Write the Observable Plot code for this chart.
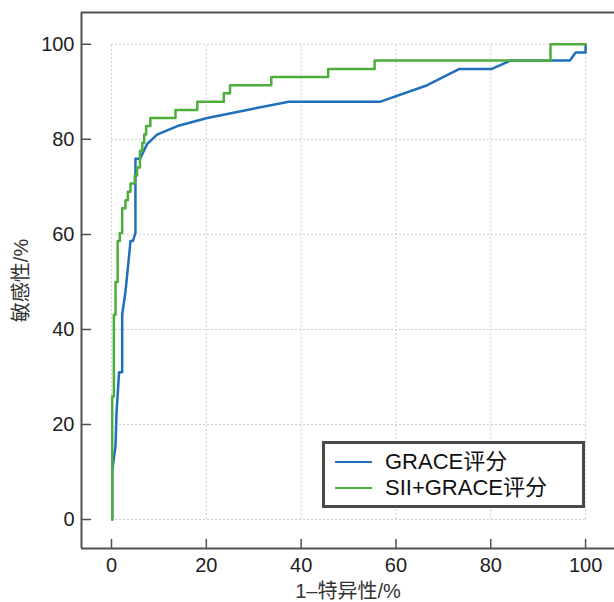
<!DOCTYPE html>
<html><head><meta charset="utf-8">
<script src="https://cdn.jsdelivr.net/npm/d3@7"></script>
<script src="https://cdn.jsdelivr.net/npm/@observablehq/plot@0.6"></script>
<style>
body{margin:0;background:#fff;}
#wrap{position:relative;width:614px;height:602px;overflow:hidden;}
#legend{position:absolute;left:322px;top:441px;width:257px;height:61px;border:3px solid #464b46;background:#fff;font-family:"Liberation Sans","Noto Sans CJK SC",sans-serif;font-size:22px;color:#111;}
.row{position:absolute;left:0;height:26px;line-height:26px;display:flex;align-items:center;white-space:nowrap;}
.sw{display:inline-block;width:37px;height:2.5px;margin-left:10px;margin-right:13px;}
</style></head><body><div id="wrap"></div>
<script>
const xTicks = [0, 20, 40, 60, 80, 100];
const yTicks = [0, 20, 40, 60, 80, 100];
const xLabel = "1–特异性/%";
const yLabel = "敏感性/%";
const seriesNames = ["GRACE评分", "SII+GRACE评分"];
const seriesColors = ["#1f6fba", "#4dae3b"];

// GRACE评分 ROC vertices (1-specificity %, sensitivity %)
const graceFpr = [0.15,0.15,0.85,1.05,1.6,2.25,2.25,2.95,3.65,4.0,4.5,5.05,5.05,6.0,7.5,9.6,13.9,20.2,28.6,37.4,56.6,66.6,73.3,80.1,84.2,96.7,97.9,100,100];
const graceTpr = [0,10.3,15.5,22.4,31.0,31.0,43.1,48.0,54.9,58.6,58.6,60.3,75.9,75.9,79.0,81.0,82.8,84.5,86.2,87.9,87.9,91.4,94.8,94.8,96.6,96.6,98.3,98.3,100];

// SII+GRACE评分 ROC vertices
const siiFpr = [0.15,0.15,0.5,0.5,0.85,0.85,1.3,1.3,1.75,1.75,2.25,2.25,2.95,2.95,3.45,3.45,4.0,4.0,4.9,4.9,5.4,5.4,6.0,6.0,6.5,6.5,6.9,6.9,7.3,7.3,8.2,8.2,13.5,13.5,18.1,18.1,23.7,23.7,25.0,25.0,33.7,33.7,45.7,45.7,55.5,55.5,92.6,92.6,100];
const siiTpr = [0,25.9,25.9,43.1,43.1,50.0,50.0,58.6,58.6,60.3,60.3,65.5,65.5,67.2,67.2,69.0,69.0,70.7,70.7,72.4,72.4,74.1,74.1,77.6,77.6,79.3,79.3,81.0,81.0,82.8,82.8,84.5,84.5,86.2,86.2,87.9,87.9,89.7,89.7,91.4,91.4,93.1,93.1,94.8,94.8,96.6,96.6,100,100];

const xDomain = [-6.33, 106.1];
const yDomain = [-6.1, 106.7];

const grace = graceFpr.map((x, i) => ({x, y: graceTpr[i]}));
const sii = siiFpr.map((x, i) => ({x, y: siiTpr[i]}));

const frameColor = "#505250";
const tickShapeUp = {draw(ctx, l) { ctx.moveTo(0, 0); ctx.lineTo(0, -l); }};
const tickShapeRight = {draw(ctx, l) { ctx.moveTo(0, 0); ctx.lineTo(l, 0); }};

const chart = Plot.plot({
  width: 614,
  height: 602,
  marginLeft: 81,
  marginRight: 0,
  marginTop: 12,
  marginBottom: 54,
  style: {fontFamily: "'Liberation Sans','Noto Sans CJK SC',sans-serif", background: "#fff"},
  x: {domain: xDomain},
  y: {domain: yDomain},
  marks: [
    Plot.ruleX(xTicks, {x: d => d, y1: yTicks[0], y2: yTicks[yTicks.length - 1], stroke: "#cfcfcf", strokeDasharray: "2,2", strokeWidth: 1}),
    Plot.ruleY(yTicks, {y: d => d, x1: xTicks[0], x2: xTicks[xTicks.length - 1], stroke: "#cfcfcf", strokeDasharray: "2,2", strokeWidth: 1}),
    Plot.ruleX([xDomain[0]], {stroke: frameColor, strokeWidth: 2}),
    Plot.ruleY([yDomain[0]], {stroke: frameColor, strokeWidth: 2}),
    Plot.ruleY([yDomain[1]], {stroke: frameColor, strokeWidth: 2}),
    Plot.vector(xTicks, {x: d => d, frameAnchor: "bottom", length: 9, anchor: "start", shape: tickShapeUp, stroke: frameColor, strokeWidth: 1.5}),
    Plot.vector(yTicks, {y: d => d, frameAnchor: "left", length: 9, anchor: "start", shape: tickShapeRight, stroke: frameColor, strokeWidth: 1.5}),
    Plot.axisX(xTicks, {tickSize: 0, tickPadding: 9, fontSize: 20, fill: "#222", label: null}),
    Plot.axisY(yTicks, {tickSize: 0, tickPadding: 7, fontSize: 20, fill: "#222", label: null}),
    Plot.text([xLabel], {frameAnchor: "bottom", textAnchor: "middle", dy: 49, fontSize: 20, fill: "#333"}),
    Plot.text([yLabel], {frameAnchor: "left", textAnchor: "middle", lineAnchor: "middle", dx: -60, rotate: -90, fontSize: 20, fill: "#333"}),
    Plot.line(grace, {x: "x", y: "y", stroke: seriesColors[0], strokeWidth: 2.5}),
    Plot.line(sii, {x: "x", y: "y", stroke: seriesColors[1], strokeWidth: 2.5})
  ]
});

const wrap = document.getElementById("wrap");
wrap.appendChild(chart);
const legend = document.createElement("div");
legend.id = "legend";
seriesNames.forEach((name, i) => {
  const row = document.createElement("div");
  row.className = "row";
  row.style.top = (5 + i * 26) + "px";
  const sw = document.createElement("span");
  sw.className = "sw";
  sw.style.background = seriesColors[i];
  const t = document.createElement("span");
  t.textContent = name;
  row.appendChild(sw);
  row.appendChild(t);
  legend.appendChild(row);
});
wrap.appendChild(legend);
</script>
</body></html>
